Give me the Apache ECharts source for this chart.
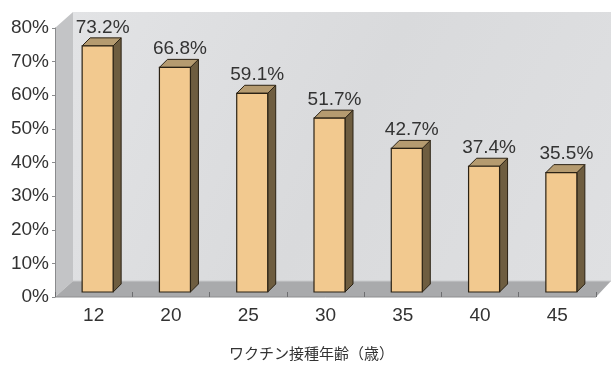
<!DOCTYPE html>
<html>
<head>
<meta charset="utf-8">
<script src="https://cdn.jsdelivr.net/npm/echarts@6/dist/echarts.min.js"></script>
<style>
html,body{margin:0;padding:0;background:#fff;}
#chart{width:611px;height:365px;}
</style>
</head>
<body>
<div id="chart"></div>
<script>
const categories = ['12', '20', '25', '30', '35', '40', '45'];
const values = [73.2, 66.8, 59.1, 51.7, 42.7, 37.4, 35.5];
const yTicks = [0, 10, 20, 30, 40, 50, 60, 70, 80];
const xAxisTitle = 'ワクチン接種年齢（歳）';

const chart = echarts.init(document.getElementById('chart'));
const DX = 18, DY = 16;      // floor depth
const BX = 4, BY = 5;        // bar front plane offset
const BW = 31, BD = 8;       // bar width & depth
const FONT = '"Liberation Sans", Arial, sans-serif';

function renderBackground(params, api) {
  const cs = params.coordSys;
  const L = cs.x, T = cs.y, B = cs.y + cs.height, R = cs.x + cs.width;
  return {
    type: 'group',
    children: [
      { type: 'rect', shape: { x: L + DX, y: T - DY, width: 611 - L - DX, height: B - T },
        style: { fill: new echarts.graphic.LinearGradient(0, 0, 1, 1, [
          { offset: 0, color: '#e2e3e5' }, { offset: 0.5, color: '#d9dadc' }, { offset: 1, color: '#dfe0e2' }]) } },
      { type: 'polygon', shape: { points: [[L, T], [L + DX, T - DY], [L + DX, B - DY], [L, B]] },
        style: { fill: '#c3c4c6' } },
      { type: 'polygon', shape: { points: [[L, B], [L + DX, B - DY], [611, B - DY], [R, B]] },
        style: { fill: '#a9aaac' } },
      { type: 'line', shape: { x1: L + DX, y1: B - DY, x2: 611, y2: B - DY },
        style: { stroke: '#c9cacc', lineWidth: 1 } },
      { type: 'line', shape: { x1: L, y1: B, x2: R, y2: B },
        style: { stroke: '#8e8f91', lineWidth: 1 } }
    ]
  };
}

function renderBar(params, api) {
  const idx = api.value(0);
  const val = api.value(1);
  const p0 = api.coord([idx, 0]);
  const p1 = api.coord([idx, val]);
  const x0 = p0[0] - BW / 2 + BX;
  const yb = p0[1] - BY;
  const yt = p1[1] - BY;
  const stroke = '#2b2214';
  return {
    type: 'group',
    children: [
      { type: 'polygon', shape: { points: [[x0 + BW, yt], [x0 + BW + BD, yt - BD], [x0 + BW + BD, yb - BD], [x0 + BW, yb]] },
        style: { fill: '#6e5d40', stroke: stroke, lineWidth: 1 } },
      { type: 'polygon', shape: { points: [[x0, yt], [x0 + BD, yt - BD], [x0 + BW + BD, yt - BD], [x0 + BW, yt]] },
        style: { fill: '#b59b70', stroke: stroke, lineWidth: 1 } },
      { type: 'rect', shape: { x: x0, y: yt, width: BW, height: yb - yt },
        style: { fill: '#f2c98f', stroke: stroke, lineWidth: 1.2 } },
      { type: 'text', style: { text: val.toFixed(1) + '%', x: x0 + BW / 2 + 5, y: yt - BD - 1,
        textAlign: 'center', textVerticalAlign: 'bottom', fill: '#333',
        font: '19px ' + FONT } }
    ]
  };
}

chart.setOption({
  animation: false,
  grid: { left: 55, right: 15, top: 28, bottom: 68 },
  xAxis: {
    type: 'category', data: categories,
    axisLine: { show: false },
    axisTick: { show: true, inside: true, length: 5, lineStyle: { color: '#6d6e70' } },
    axisLabel: { fontSize: 19, color: '#333', margin: 9, fontFamily: FONT },
    z: 5
  },
  yAxis: {
    type: 'value', min: yTicks[0], max: yTicks[yTicks.length - 1], interval: 10,
    axisLine: { show: true, lineStyle: { color: '#8a8b8d' } },
    axisTick: { show: true, length: 3, lineStyle: { color: '#8a8b8d' } },
    axisLabel: { formatter: '{value}%', fontSize: 19, color: '#333', margin: 6, fontFamily: FONT },
    splitLine: { show: false },
    z: 5
  },
  graphic: [
    { type: 'text', left: 229, top: 346, style: { text: xAxisTitle, fill: '#333',
      font: '15px "Noto Sans CJK JP", sans-serif' } }
  ],
  series: [
    { type: 'custom', renderItem: renderBackground, data: [[0, 0]], z: 1, silent: true },
    { type: 'custom', renderItem: renderBar, data: values.map((v, i) => [i, v]), z: 3 }
  ]
});
</script>
</body>
</html>
